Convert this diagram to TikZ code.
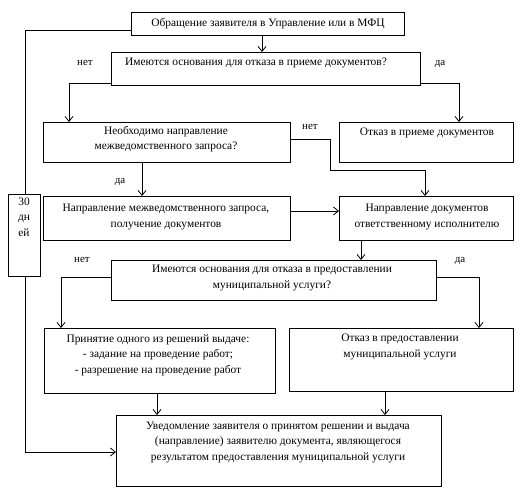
\documentclass[tikz,border=0pt]{standalone}
\usepackage{fontspec}
\setmainfont{Liberation Serif}
\usetikzlibrary{arrows.meta,calc}
\begin{document}
\begin{tikzpicture}[x=1pt,y=-1pt,
  box/.style={draw, line width=0.9pt, inner sep=0pt, anchor=north west},
  txt/.style={align=center, inner sep=0pt, font=\fontsize{11.4}{15.5}\selectfont},
  lbl/.style={inner sep=0pt, font=\fontsize{11}{12}\selectfont},
  conn/.style={line width=0.8pt},
  arr/.style={conn, -{Straight Barb[length=5pt,width=8pt]}}]
\useasboundingbox (0,0) rectangle (529,497);
% boxes
\node[box, minimum width=273pt, minimum height=23pt] (b1) at (131,12) {};
\node[box, minimum width=309pt, minimum height=33pt] (b2) at (111,52) {};
\node[box, minimum width=247pt, minimum height=40pt] (b3) at (43,122) {};
\node[box, minimum width=174pt, minimum height=40pt] (b4) at (339,122) {};
\node[box, minimum width=247pt, minimum height=44pt] (b5) at (43,196) {};
\node[box, minimum width=174pt, minimum height=44pt] (b6) at (339,196) {};
\node[box, minimum width=32pt, minimum height=82pt] (d) at (8,194) {};
\node[box, minimum width=325pt, minimum height=40pt] (b7) at (111,260) {};
\node[box, minimum width=231pt, minimum height=65pt] (b8) at (44,328) {};
\node[box, minimum width=224pt, minimum height=63pt] (b9) at (289,328) {};
\node[box, minimum width=325pt, minimum height=71pt] (b10) at (116,415) {};
% texts
\node[txt] (t1) at (268,24) {Обращение заявителя в Управление или в МФЦ};
\node[txt] (t2) at (256,63) {Имеются основания для отказа в приеме документов?};
\node[txt] (t3) at (166,139) {Необходимо направление\\межведомственного запроса?};
\node[txt] (t4) at (427,133) {Отказ в приеме документов};
\node[txt] (t5) at (166,217) {Направление межведомственного запроса,\\получение документов};
\node[txt] (t6) at (427,217) {Направление документов\\ответственному исполнителю};
\node[txt] (td) at (24,217) {30\\дн\\ей};
\node[txt] (t7) at (272,278) {Имеются основания для отказа в предоставлении\\муниципальной услуги?};
\node[txt] (t8) at (158,355) {Принятие одного из решений выдаче:\\- задание на проведение работ;\\- разрешение на проведение работ};
\node[txt] (t9) at (400,347) {Отказ в предоставлении\\муниципальной услуги};
\node[txt] (t10) at (278,442) {Уведомление заявителя о принятом решении и выдача\\(направление) заявителю документа, являющегося\\результатом предоставления муниципальной услуги};
% labels
\node[lbl] (l1) at (85,63) {нет};
\node[lbl] (l2) at (440,64) {да};
\node[lbl] (l3) at (310,127) {нет};
\node[lbl] (l4) at (120,182) {да};
\node[lbl] (l5) at (82,260) {нет};
\node[lbl] (l6) at (460,261) {да};
% connectors
\draw[arr] (b1.south -| 262,0) -- (b2.north -| 262,0);
\draw[conn] (b1.west |- 0,30) -- (25,30) -- (d.north -| 25,0);
\draw[arr] (d.south -| 25,0) -- (25,452) -- (b10.west |- 0,452);
\draw[arr] (b2.west |- 0,83) -- (69,83) -- (b3.north -| 69,0);
\draw[arr] (b2.east |- 0,83) -- (459,83) -- (b4.north -| 459,0);
\draw[arr] (b3.east |- 0,139) -- (330,139) -- (330,170) -- (425,170) -- (b6.north -| 425,0);
\draw[arr] (b3.south -| 142,0) -- (b5.north -| 142,0);
\draw[arr] (b5.east |- 0,211) -- (b6.west |- 0,211);
\draw[arr] (b6.south -| 361,0) -- (b7.north -| 361,0);
\draw[arr] (b7.west |- 0,277) -- (61,277) -- (b8.north -| 61,0);
\draw[arr] (b7.east |- 0,277) -- (479,277) -- (b9.north -| 479,0);
\draw[arr] (b8.south -| 157,0) -- (b10.north -| 157,0);
\draw[arr] (b9.south -| 385,0) -- (b10.north -| 385,0);
\end{tikzpicture}
\end{document}
